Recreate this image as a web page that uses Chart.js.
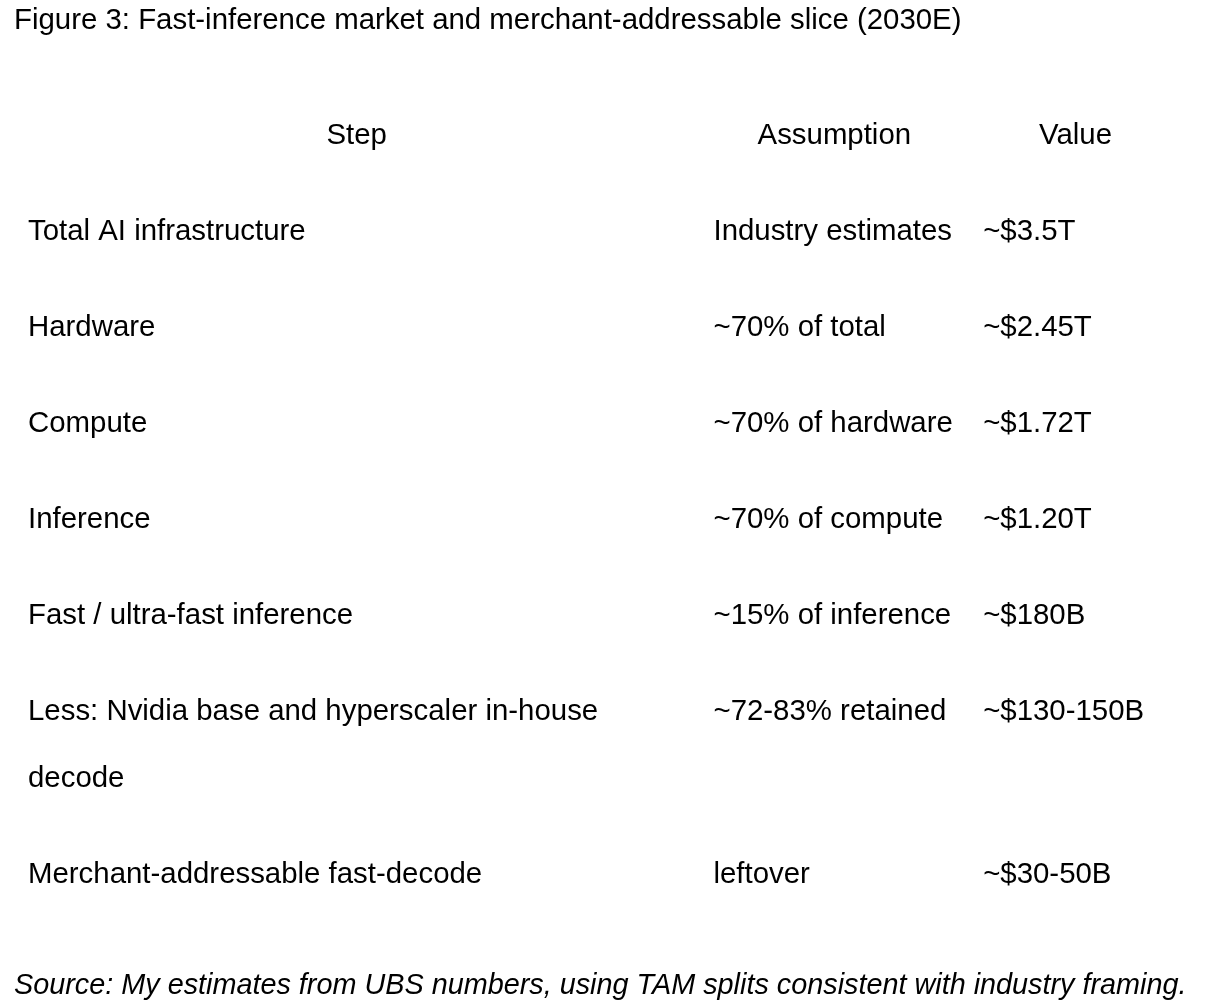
<!DOCTYPE html>
<html>
<head>
<meta charset="utf-8">
<script src="https://cdn.jsdelivr.net/npm/chart.js@4.4.1/dist/chart.umd.min.js"></script>
<style>
  html, body { margin: 0; padding: 0; background: #fff; }
</style>
</head>
<body>
<canvas id="tableChart" width="1216" height="1008"></canvas>
<script>
// table content
var headers = ['Step', 'Assumption', 'Value'];
var steps = [
    'Total AI infrastructure',
    'Hardware',
    'Compute',
    'Inference',
    'Fast / ultra-fast inference',
    ['Less: Nvidia base and hyperscaler in-house', 'decode'],
    'Merchant-addressable fast-decode'
];
var assumptions = [
    'Industry estimates',
    '~70% of total',
    '~70% of hardware',
    '~70% of compute',
    '~15% of inference',
    '~72-83% retained',
    'leftover'
];
var values = ['~$3.5T', '~$2.45T', '~$1.72T', '~$1.20T', '~$180B', '~$130-150B', '~$30-50B'];

// layout
var FONT = "'Liberation Sans', Arial, Helvetica, sans-serif";
var BODY_SIZE = 29.4;
var colEdges = [0, 0.577, 0.804, 0.983]; // share of table width
var cellPad = 14;
var lineGap = 0.7; // extra row height per wrapped line, in row units

var columns = [steps, assumptions, values];

// row positions: header at 0, each body row one unit lower, wrapped rows take more room
var rowPos = [];
var pos = 1;
steps.forEach(function (s, i) {
    rowPos.push(pos);
    var lines = Math.max.apply(null, columns.map(function (c) { return Array.isArray(c[i]) ? c[i].length : 1; }));
    pos += 1 + (lines - 1) * lineGap;
});

var datasets = [{
    label: 'header',
    data: headers.map(function (h, j) {
        return { x: (colEdges[j] + colEdges[j + 1]) / 2, y: 0 };
    })
}];
columns.forEach(function (col, j) {
    datasets.push({
        label: headers[j],
        data: col.map(function (c, i) { return { x: colEdges[j], y: rowPos[i] }; })
    });
});

var cellText = {
    id: 'cellText',
    afterDatasetsDraw: function (chart) {
        var ctx = chart.ctx;
        var yScale = chart.scales.y;
        ctx.save();
        ctx.fillStyle = '#000';
        ctx.font = BODY_SIZE + 'px ' + FONT;
        ctx.textBaseline = 'middle';
        chart.data.datasets.forEach(function (ds, d) {
            chart.getDatasetMeta(d).data.forEach(function (pt, i) {
                if (d === 0) {
                    ctx.textAlign = 'center';
                    ctx.fillText(headers[i], pt.x, pt.y);
                    return;
                }
                var text = columns[d - 1][i];
                var lines = Array.isArray(text) ? text : [text];
                ctx.textAlign = 'left';
                lines.forEach(function (line, k) {
                    ctx.fillText(line, pt.x + cellPad, yScale.getPixelForValue(rowPos[i] + k * lineGap));
                });
            });
        });
        ctx.restore();
    }
};

var chart = new Chart(document.getElementById('tableChart'), {
    type: 'scatter',
    data: { datasets: datasets },
    options: {
        responsive: false,
        animation: false,
        color: '#000',
        layout: { padding: { left: 14, right: 14, top: 0, bottom: 0 } },
        elements: { point: { radius: 0, hoverRadius: 0 } },
        scales: {
            x: { type: 'linear', min: 0, max: 1, display: false },
            y: { type: 'linear', min: -1, max: 8.5, reverse: true, display: false }
        },
        plugins: {
            legend: { display: false },
            tooltip: { enabled: false },
            title: {
                display: true,
                text: 'Figure 3: Fast-inference market and merchant-addressable slice (2030E)',
                align: 'start',
                color: '#000',
                font: { family: FONT, size: 29.4, weight: 'normal', lineHeight: 1.2 },
                padding: { top: 3.56, bottom: 0.66 }
            },
            subtitle: {
                display: true,
                position: 'bottom',
                text: 'Source: My estimates from UBS numbers, using TAM splits consistent with industry framing.',
                align: 'start',
                color: '#000',
                font: { family: FONT, size: 28.8, style: 'italic', lineHeight: 1.2 },
                padding: { top: 17.2, bottom: 4.74 }
            }
        }
    },
    plugins: [cellText]
});
</script>
</body>
</html>
